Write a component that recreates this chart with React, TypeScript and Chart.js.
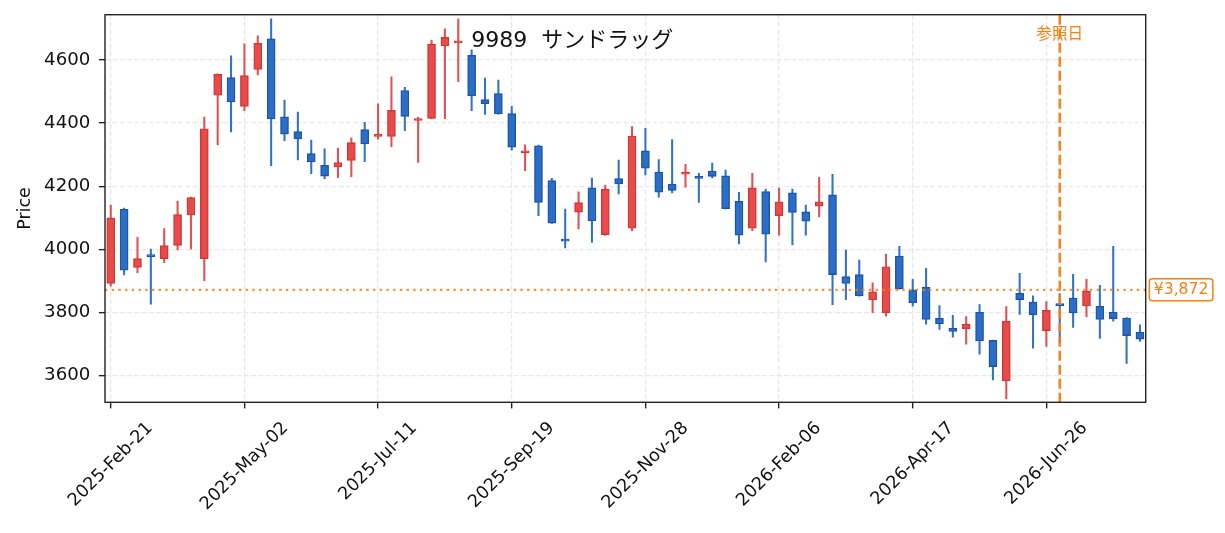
import { useEffect, useRef } from 'react'
import { Chart, registerables } from 'chart.js'

Chart.register(...registerables)

// weekly candles, index 0 = 2025-02-21
const opens = [
  3892, 4127, 3943, 3980, 3971, 4013, 4109, 3971, 4488, 4544,
  4453, 4570, 4667, 4420, 4373, 4303, 4266, 4261, 4282, 4379,
  4358, 4358, 4503, 4408, 4415, 4644, 4654, 4614, 4474, 4493,
  4430, 4306, 4328, 4218, 4030, 4118, 4195, 4047, 4224, 4067,
  4312, 4245, 4207, 4238, 4228, 4248, 4233, 4152, 4067, 4183,
  4107, 4179, 4119, 4137, 4173, 3914, 3920, 3840, 3800, 3979,
  3872, 3880, 3782, 3750, 3749, 3801, 3712, 3584, 3861, 3833,
  3743, 3825, 3846, 3821, 3820, 3801, 3783, 3738,
]
const highs = [
  4140, 4131, 4038, 4001, 4066, 4153, 4166, 4419, 4556, 4613,
  4651, 4676, 4730, 4473, 4435, 4346, 4318, 4321, 4353, 4402,
  4461, 4546, 4513, 4418, 4663, 4698, 4730, 4632, 4542, 4536,
  4453, 4331, 4330, 4225, 4128, 4182, 4226, 4204, 4283, 4389,
  4383, 4284, 4348, 4269, 4241, 4273, 4251, 4181, 4241, 4191,
  4194, 4191, 4140, 4228, 4238, 3998, 3966, 3894, 3985, 4010,
  3905, 3940, 3822, 3791, 3787, 3825, 3713, 3819, 3924, 3853,
  3835, 3860, 3921, 3905, 3886, 4010, 3784, 3761,
]
const lows = [
  3884, 3919, 3926, 3827, 3958, 3998, 4001, 3901, 4331, 4372,
  4439, 4552, 4265, 4344, 4283, 4240, 4224, 4227, 4230, 4278,
  4349, 4325, 4376, 4275, 4413, 4414, 4531, 4439, 4427, 4428,
  4314, 4249, 4107, 4082, 4005, 4065, 4022, 4044, 4176, 4059,
  4236, 4165, 4179, 4197, 4149, 4226, 4128, 4017, 4059, 3960,
  4045, 4014, 4045, 4103, 3825, 3841, 3852, 3800, 3789, 3874,
  3820, 3763, 3747, 3722, 3700, 3668, 3587, 3527, 3794, 3687,
  3693, 3705, 3753, 3787, 3718, 3773, 3639, 3709,
]
const closes = [
  4100, 3934, 3971, 3977, 4012, 4110, 4164, 4382, 4554, 4467,
  4550, 4652, 4413, 4365, 4350, 4277, 4232, 4275, 4338, 4334,
  4362, 4440, 4421, 4412, 4650, 4671, 4657, 4486, 4461, 4429,
  4324, 4311, 4149, 4083, 4026, 4148, 4090, 4191, 4207, 4359,
  4257, 4181, 4187, 4242, 4225, 4231, 4129, 4045, 4195, 4048,
  4151, 4117, 4089, 4151, 3920, 3892, 3853, 3866, 3945, 3875,
  3831, 3778, 3764, 3740, 3764, 3710, 3629, 3773, 3841, 3793,
  3807, 3822, 3799, 3868, 3778, 3781, 3727, 3716,
]

const tickIndex = [0, 10, 20, 30, 40, 50, 60, 70]
const tickLabels = [
  '2025-Feb-21', '2025-May-02', '2025-Jul-11', '2025-Sep-19',
  '2025-Nov-28', '2026-Feb-06', '2026-Apr-17', '2026-Jun-26',
]
const yTicks = [3600, 3800, 4000, 4200, 4400, 4600]

const refIndex = 71
const refPrice = 3872
const titleText = '9989  サンドラッグ'

const FONT = '"DejaVu Sans", "Noto Sans CJK JP", sans-serif'
const ORANGE = '#ff7f0e'

export default function App() {
  const chartRef = useRef<HTMLCanvasElement>(null)
  const chartInstanceRef = useRef<Chart | null>(null)

  useEffect(() => {
    document.body.style.margin = '0'
    if (!chartRef.current) return
    const ctx = chartRef.current.getContext('2d')
    if (!ctx) return

    if (chartInstanceRef.current) {
      chartInstanceRef.current.destroy()
    }

    const up = closes.map((c, i) => c >= opens[i])

    const overlay = {
      id: 'overlay',
      afterDatasetsDraw(chart: any) {
        const { ctx: c, chartArea: a, scales } = chart
        const py = scales.y.getPixelForValue(refPrice)
        const px = scales.x.getPixelForValue(refIndex)
        c.save()
        c.beginPath()
        c.rect(a.left, a.top, a.width, a.height)
        c.clip()
        c.strokeStyle = 'rgba(255,127,14,0.85)'
        c.lineWidth = 2.2
        c.setLineDash([2.4, 4.3])
        c.beginPath()
        c.moveTo(a.left, py)
        c.lineTo(a.right, py)
        c.stroke()
        c.strokeStyle = 'rgba(245,125,20,0.95)'
        c.lineWidth = 2.6
        c.setLineDash([10, 4])
        c.beginPath()
        c.moveTo(px, a.top)
        c.lineTo(px, a.bottom)
        c.stroke()
        c.restore()
      },
      afterDraw(chart: any) {
        const { ctx: c, chartArea: a, scales } = chart
        c.save()
        // frame
        c.strokeStyle = '#222'
        c.lineWidth = 1.4
        c.setLineDash([])
        c.strokeRect(a.left, a.top, a.width, a.height)

        // rotated x labels, centred on the tick
        c.fillStyle = '#111'
        c.font = `17.6px ${FONT}`
        c.textAlign = 'right'
        c.textBaseline = 'middle'
        tickIndex.forEach((t, k) => {
          const px = scales.x.getPixelForValue(t)
          const w = c.measureText(tickLabels[k]).width
          c.save()
          c.translate(px + 0.354 * w, a.bottom + 23)
          c.rotate(-Math.PI / 4)
          c.fillText(tickLabels[k], 0, 0)
          c.restore()
        })

        // title
        c.font = `22px ${FONT}`
        c.textAlign = 'left'
        c.textBaseline = 'alphabetic'
        c.fillStyle = '#111'
        c.fillText(titleText, a.left + 0.352 * a.width, a.top + 32)

        // reference date label
        const px = scales.x.getPixelForValue(refIndex)
        c.font = `15.6px ${FONT}`
        c.fillStyle = ORANGE
        c.textAlign = 'center'
        c.textBaseline = 'middle'
        c.fillText('参照日', px, a.top + 20)

        // price tag
        const py = scales.y.getPixelForValue(refPrice)
        const tag = '¥' + refPrice.toLocaleString('en-US')
        const tw = c.measureText(tag).width
        const bx = a.right + 3.6
        const bw = tw + 9
        c.beginPath()
        c.roundRect(bx, py - 11, bw, 22, 3)
        c.fillStyle = '#fff'
        c.fill()
        c.strokeStyle = ORANGE
        c.lineWidth = 1.5
        c.stroke()
        c.fillStyle = ORANGE
        c.fillText(tag, bx + bw / 2, py + 0.5)
        c.restore()
      },
    }

    chartInstanceRef.current = new Chart(ctx, {
      type: 'bar',
      data: {
        datasets: [
          {
            label: 'wick',
            data: lows.map((l, i) => ({ x: i, y: [l, highs[i]] })) as any,
            backgroundColor: up.map((u) => (u ? '#e44f4f' : '#3073c9')),
            barThickness: 1.4,
            grouped: false,
            order: 2,
          },
          {
            label: 'body',
            data: opens.map((o, i) => ({ x: i, y: [o, closes[i]] })) as any,
            backgroundColor: up.map((u) => (u ? '#e84c4a' : '#2b6ec8')),
            borderColor: up.map((u) => (u ? '#d03838' : '#1d55a6')),
            borderWidth: 1.4,
            borderSkipped: false,
            barThickness: 8,
            minBarLength: 2,
            grouped: false,
            order: 1,
          },
        ],
      },
      options: {
        responsive: false,
        animation: false,
        events: [],
        layout: { padding: { left: 0, top: 14.7, right: 79.3, bottom: 0 } },
        plugins: {
          legend: { display: false },
          tooltip: { enabled: false },
          title: { display: false },
        },
        scales: {
          x: {
            type: 'linear',
            min: -0.43,
            max: 77.43,
            offset: false,
            afterBuildTicks: (s: any) => {
              s.ticks = tickIndex.map((v) => ({ value: v }))
            },
            afterFit: (s: any) => {
              s.height = 130.7
              s.paddingLeft = 0
              s.paddingRight = 0
            },
            ticks: { display: false },
            grid: {
              offset: false,
              color: '#e8e8e8',
              lineWidth: 1.3,
              tickColor: '#222',
              tickLength: 6.1,
              tickWidth: 1.4,
            },
            border: { display: false, dash: [5, 2.3] },
          },
          y: {
            type: 'linear',
            min: 3516,
            max: 4743,
            afterBuildTicks: (s: any) => {
              s.ticks = yTicks.map((v) => ({ value: v }))
            },
            afterFit: (s: any) => {
              s.width = 105
              s.paddingTop = 0
              s.paddingBottom = 0
            },
            ticks: {
              color: '#111',
              padding: 8.5,
              font: { family: FONT, size: 18.2 },
              callback: (v: any) => String(v),
            },
            grid: {
              color: '#e8e8e8',
              lineWidth: 1.3,
              tickColor: '#222',
              tickLength: 6.1,
              tickWidth: 1.4,
            },
            border: { display: false, dash: [5, 2.3] },
            title: {
              display: true,
              text: 'Price',
              color: '#111',
              font: { family: FONT, size: 17.4 },
              padding: { top: 14.6, bottom: 0 },
            },
          },
        },
      },
      plugins: [overlay],
    })

    return () => {
      chartInstanceRef.current?.destroy()
      chartInstanceRef.current = null
    }
  }, [])

  return (
    <div style={{ width: 1225, height: 533, background: '#fff' }}>
      <canvas ref={chartRef} width={1225} height={533} style={{ display: 'block' }}></canvas>
    </div>
  )
}
